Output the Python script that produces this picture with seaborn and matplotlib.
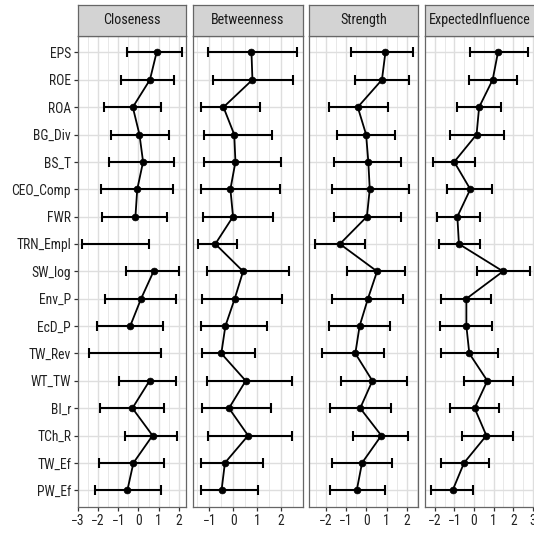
import numpy as np
import pandas as pd
import matplotlib
matplotlib.use("Agg")
import matplotlib.pyplot as plt
import matplotlib.font_manager as fm
import seaborn as sns
from matplotlib.ticker import MultipleLocator

nan = np.nan
nodes = ["EPS", "ROE", "ROA", "BG_Div", "BS_T", "CEO_Comp", "FWR", "TRN_Empl", "SW_log",
         "Env_P", "EcD_P", "TW_Rev", "WT_TW", "BI_r", "TCh_R", "TW_Ef", "PW_Ef"]

closeness = [0.90, 0.57, -0.28, 0.05, 0.23, -0.06, -0.15, nan, 0.75, 0.13, -0.41, nan, 0.55, -0.30, 0.70, -0.25, -0.55]
closeness_lo = [-0.56, -0.89, -1.72, -1.34, -1.47, -1.84, -1.81, -2.78, -0.63, -1.64, -2.07, -2.45, -0.98, -1.92, -0.69, -1.96, -2.15]
closeness_hi = [2.16, 1.76, 1.13, 1.51, 1.76, 1.69, 1.43, 0.50, 2.02, 1.86, 1.20, 1.10, 1.86, 1.25, 1.89, 1.25, 1.11]

betweenness = [0.76, 0.80, -0.41, 0.04, 0.09, -0.12, -0.01, -0.75, 0.41, 0.06, -0.33, -0.50, 0.52, -0.18, 0.62, -0.35, -0.49]
betweenness_lo = [-1.04, -0.83, -1.34, -1.23, -1.24, -1.34, -1.27, -1.46, -1.11, -1.31, -1.35, -1.32, -1.08, -1.31, -1.06, -1.35, -1.34]
betweenness_hi = [2.67, 2.51, 1.10, 1.61, 1.98, 1.95, 1.68, 0.14, 2.33, 2.04, 1.40, 0.90, 2.46, 1.59, 2.46, 1.23, 1.03]

strength = [0.94, 0.77, -0.42, -0.01, 0.10, 0.17, 0.03, -1.30, 0.53, 0.08, -0.33, -0.54, 0.30, -0.30, 0.74, -0.21, -0.47]
strength_lo = [-0.75, -0.54, -1.84, -1.44, -1.58, -1.67, -1.58, -2.54, -0.97, -1.71, -1.85, -2.17, -1.23, -1.77, -0.66, -1.71, -1.80]
strength_hi = [2.30, 2.12, 1.07, 1.43, 1.69, 2.10, 1.69, -0.05, 1.91, 1.82, 1.15, 0.86, 2.00, 1.20, 2.07, 1.27, 0.94]

expinf = [1.22, 0.95, 0.26, 0.13, -1.01, -0.19, -0.85, -0.77, 1.48, -0.39, -0.39, -0.24, 0.68, 0.03, 0.63, -0.51, -1.09]
expinf_lo = [-0.22, -0.24, -0.87, -1.24, -2.09, -1.40, -1.89, -1.81, 0.15, -1.68, -1.73, -1.67, -0.49, -1.21, -0.60, -1.70, -2.19]
expinf_hi = [2.73, 2.17, 1.36, 1.53, 0.07, 0.93, 0.32, 0.29, 2.87, 0.87, 0.90, 1.21, 1.97, 1.29, 1.97, 0.77, -0.05]

measures = ["Closeness", "Betweenness", "Strength", "ExpectedInfluence"]
values = [closeness, betweenness, strength, expinf]
lows = [closeness_lo, betweenness_lo, strength_lo, expinf_lo]
highs = [closeness_hi, betweenness_hi, strength_hi, expinf_hi]
xlims = [(-3.0, 2.36), (-1.67, 2.9), (-2.82, 2.53), (-2.5, 3.12)]
xticks = [[-3, -2, -1, 0, 1, 2], [-1, 0, 1, 2], [-2, -1, 0, 1, 2], [-2, -1, 0, 1, 2, 3]]

sns.set_theme(style="white")

# pick a narrow sans if one is installed
fonts = fm.fontManager.ttflist
names = {f.name for f in fonts}
family, stretch, fsize = "Liberation Sans", "normal", 8.8
for cand in ["Liberation Sans Narrow", "Arial Narrow", "Roboto Condensed", "Open Sans Condensed"]:
    if cand in names:
        family, stretch, fsize = cand, "normal", 9.8
        break
else:
    narrow = [f for f in fonts if ("Narrow" in f.name or "Condensed" in f.name)]
    if narrow:
        family, stretch, fsize = narrow[0].name, "normal", 9.8
    else:
        cond = [f for f in fonts if f.stretch in ("condensed", "semi-condensed", 75, 87.5)
                and f.name in ("Liberation Sans", "Roboto", "Open Sans", "Noto Sans", "DejaVu Sans", "Inter")]
        if cond:
            family, stretch, fsize = cond[0].name, cond[0].stretch, 9.3
plt.rcParams["font.family"] = [family, "Liberation Sans", "DejaVu Sans"]
plt.rcParams["font.stretch"] = stretch

W, H = 534, 533
fig = plt.figure(figsize=(W / 100, H / 100), dpi=100)
panels_px = [(78, 186), (193.3, 302.7), (309, 417.7), (425, 535.2)]
p_top, p_bot = 36, 506.7
s_top = 4.7

pos = np.arange(len(nodes))
first = None
for i, m in enumerate(measures):
    l, r = panels_px[i]
    ax = fig.add_axes([l / W, 1 - p_bot / H, (r - l) / W, (p_bot - p_top) / H],
                      sharey=first)
    if first is None:
        first = ax
    ax.set_facecolor("white")
    df = pd.DataFrame({"node": nodes, "pos": pos, "value": values[i],
                       "lo": lows[i], "hi": highs[i]})
    df["seg"] = df["value"].isna().cumsum()
    ax.errorbar(x=(df["lo"] + df["hi"]) / 2, y=df["pos"], xerr=(df["hi"] - df["lo"]) / 2,
                fmt="none", ecolor="black", elinewidth=1.5, capsize=3.6, capthick=1.5, zorder=3)
    d = df.dropna(subset=["value"])
    sns.lineplot(data=d, x="value", y="pos", units="seg", estimator=None, sort=False,
                 color="black", linewidth=1.3, ax=ax, zorder=4)
    sns.scatterplot(data=d, x="value", y="pos", color="black", s=24, edgecolor="black",
                    linewidth=0.5, ax=ax, zorder=5)
    ax.set_xlim(*xlims[i])
    ax.set_ylim(len(nodes) - 0.4, -0.6)
    ax.set_xticks(xticks[i])
    ax.xaxis.set_minor_locator(MultipleLocator(0.5))
    ax.set_yticks(pos)
    ax.grid(True, which="major", color="#DEDEDE", linewidth=1.0, zorder=0)
    ax.grid(True, which="minor", axis="x", color="#E8E8E8", linewidth=0.7, zorder=0)
    ax.set_axisbelow(True)
    ax.set_xlabel("")
    ax.set_ylabel("")
    for sp in ax.spines.values():
        sp.set_color("#666666")
        sp.set_linewidth(0.9)
    ax.tick_params(axis="x", which="major", length=3, width=0.9, color="#333333",
                   labelsize=fsize, labelcolor="#222222", pad=2, bottom=True)
    ax.tick_params(axis="x", which="minor", length=0)
    if i == 0:
        ax.set_yticklabels(nodes)
        ax.tick_params(axis="y", length=3, width=0.9, color="#333333", labelsize=fsize,
                       labelcolor="#222222", pad=2, left=True)
    else:
        ax.tick_params(axis="y", left=False, labelleft=False)
    sax = fig.add_axes([l / W, 1 - p_top / H, (r - l) / W, (p_top - s_top) / H])
    sax.set_facecolor("#D3D3D3")
    sax.set_xticks([])
    sax.set_yticks([])
    for sp in sax.spines.values():
        sp.set_color("#666666")
        sp.set_linewidth(0.9)
    sax.text(0.5, 0.5, m, ha="center", va="center", fontsize=fsize + 0.4, color="#1A1A1A",
             transform=sax.transAxes)

fig.savefig("out.png", dpi=100, facecolor="white")
